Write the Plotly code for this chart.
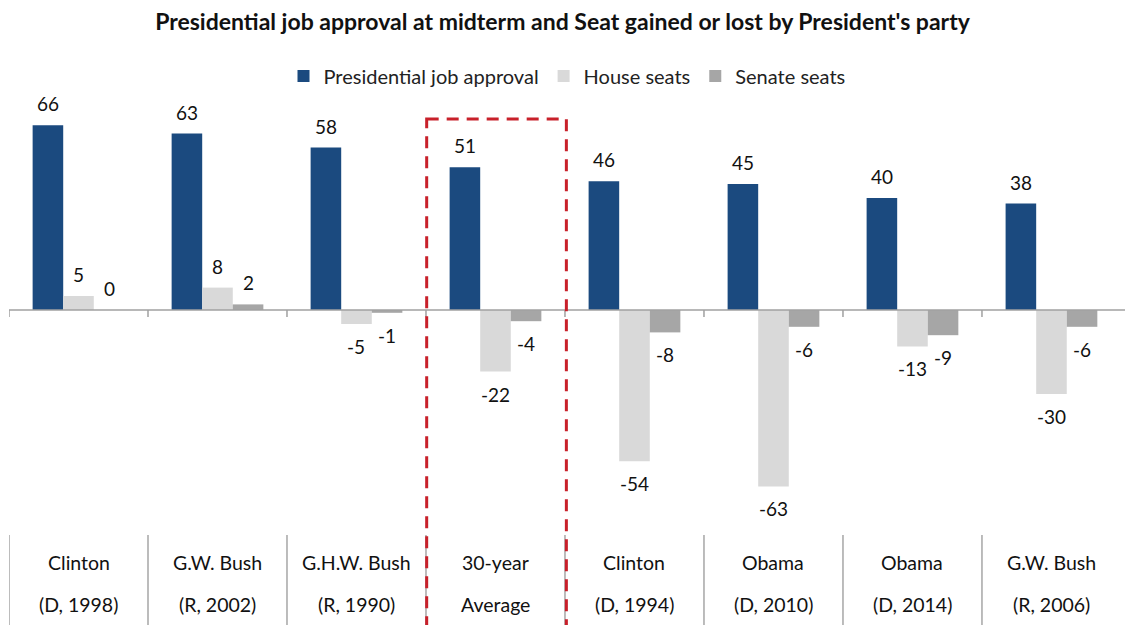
import plotly.graph_objects as go

# Midterm data by president / election year
cat_top = ["Clinton", "G.W. Bush", "G.H.W. Bush", "30-year", "Clinton", "Obama", "Obama", "G.W. Bush"]
cat_bottom = ["(D, 1998)", "(R, 2002)", "(R, 1990)", "Average", "(D, 1994)", "(D, 2010)", "(D, 2014)", "(R, 2006)"]
approval = [66, 63, 58, 51, 46, 45, 40, 38]
house = [5, 8, -5, -22, -54, -63, -13, -30]
senate = [0, 2, -1, -4, -8, -6, -9, -6]

series = [
    ("Presidential job approval", approval, "#1B4A7F"),
    ("House seats", house, "#D9D9D9"),
    ("Senate seats", senate, "#A6A6A6"),
]

FONT = "Lato"
BARGAP = 0.34
bar_w = (1 - BARGAP) / len(series)
xs = list(range(len(cat_top)))

fig = go.Figure()
annotations = []
for k, (name, vals, color) in enumerate(series):
    fig.add_trace(go.Bar(
        x=xs, y=vals, name=name,
        marker=dict(color=color, line=dict(width=0)),
    ))
    off = (k - 1) * bar_w
    for i, v in zip(xs, vals):
        annotations.append(dict(
            x=i + off, y=v, text=str(v), showarrow=False,
            xref="x", yref="y",
            yanchor="bottom" if v >= 0 else "top",
            yshift=8 if v >= 0 else -9,
            font=dict(family=FONT, size=19, color="#111111"),
        ))

# category labels in the table strip below the bars
for i in xs:
    annotations.append(dict(x=i, y=-90, text=cat_top[i], showarrow=False,
                            xref="x", yref="y",
                            font=dict(family=FONT, size=19.5, color="#111111")))
    annotations.append(dict(x=i, y=-105, text=cat_bottom[i], showarrow=False,
                            xref="x", yref="y",
                            font=dict(family=FONT, size=19.5, color="#111111")))

x_min, x_max = -0.5, 7.529
y_min, y_max = -112.5, 71.43

shapes = []
# zero axis with category tick marks
shapes.append(dict(type="line", xref="x", yref="y", x0=x_min, x1=x_max, y0=0, y1=0,
                   line=dict(color="#A0A0A0", width=1.5), layer="above"))
for i in range(len(xs)):
    b = i - 0.5
    shapes.append(dict(type="line", xref="x", yref="y", x0=b, x1=b, y0=0, y1=-2.5,
                       line=dict(color="#A0A0A0", width=1.5)))
    # separators between the category labels
    shapes.append(dict(type="line", xref="x", yref="y", x0=b, x1=b, y0=-80.4, y1=y_min,
                       line=dict(color="#A6A6A6", width=1.5)))

# highlight box around the average
shapes.append(dict(type="rect", xref="x", yref="y", x0=2.505, x1=3.51, y0=68.2, y1=-130,
                   line=dict(color="#C8202A", width=3, dash="12px,8px"),
                   fillcolor="rgba(0,0,0,0)", layer="above"))

fig.update_layout(
    width=1125, height=625,
    margin=dict(l=9, r=0, t=110, b=0),
    paper_bgcolor="white", plot_bgcolor="white",
    barmode="group", bargap=BARGAP, bargroupgap=0,
    title=dict(text="<b>Presidential job approval at midterm and Seat gained or lost by President's party</b>",
               x=0.5, xanchor="center", y=1 - 22 / 625, yanchor="middle",
               font=dict(family=FONT, size=23, color="#111111")),
    legend=dict(orientation="h", x=0.5, xanchor="center", y=(625 - 76) / 515, yanchor="middle",
                font=dict(family=FONT, size=20, color="#222222"),
                itemwidth=30, traceorder="normal"),
    xaxis=dict(range=[x_min, x_max], showticklabels=False, showgrid=False,
               zeroline=False, ticks=""),
    yaxis=dict(range=[y_min, y_max], showticklabels=False, showgrid=False,
               zeroline=False, ticks=""),
    annotations=annotations,
    shapes=shapes,
)

fig.write_html("out.html")
